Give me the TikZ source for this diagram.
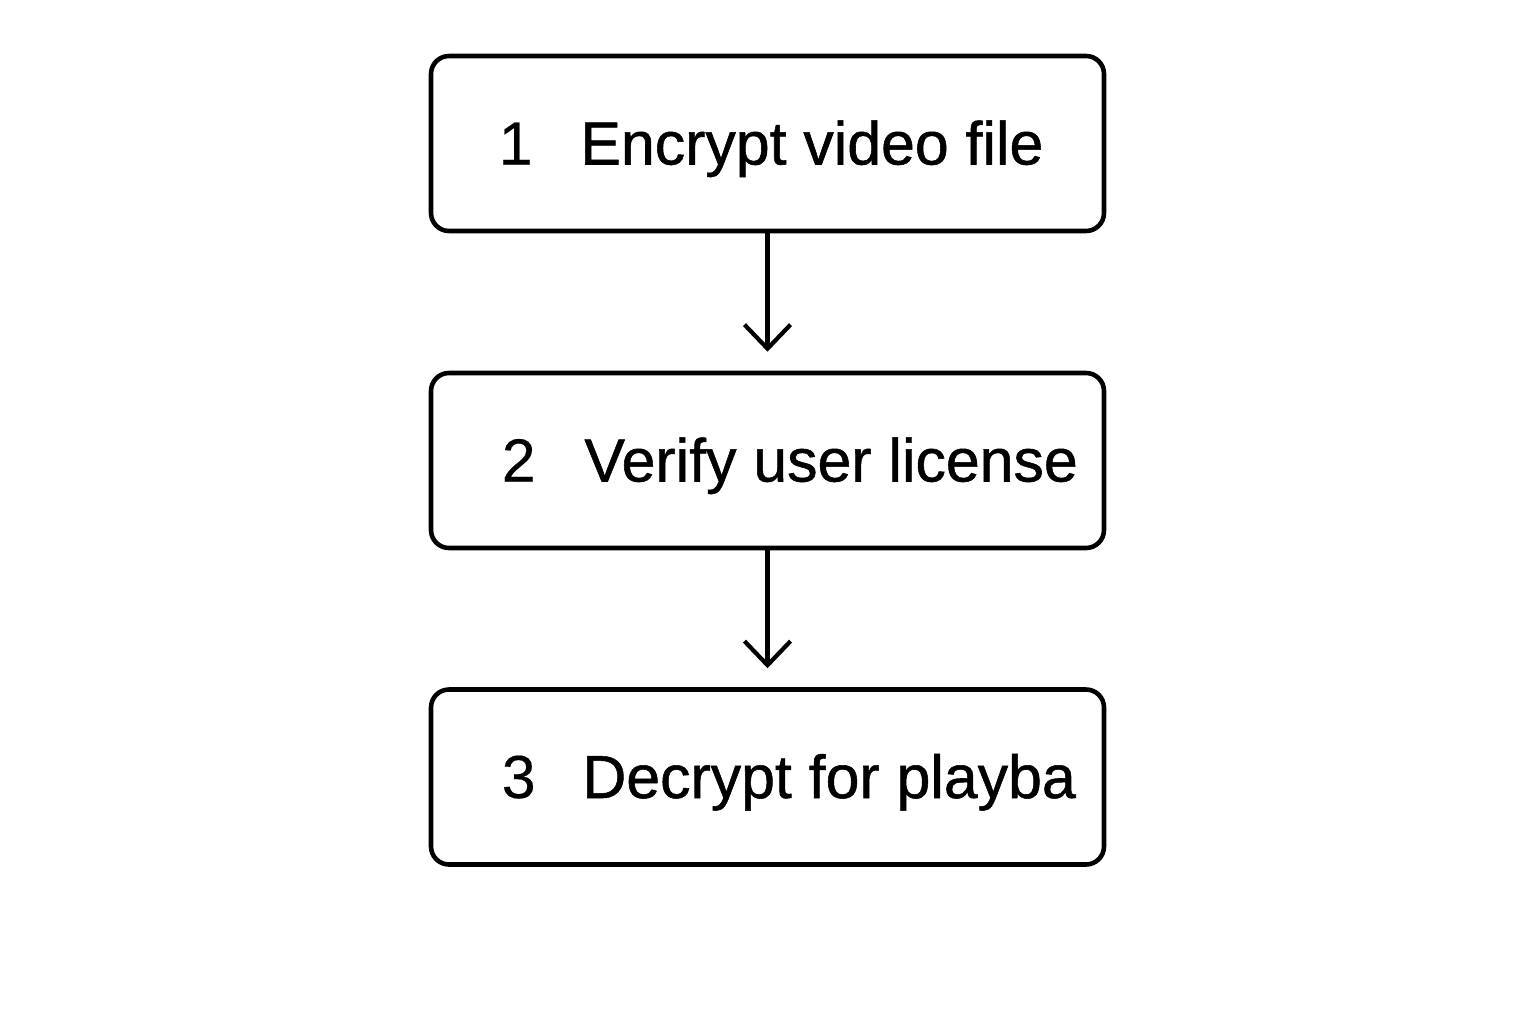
\documentclass[tikz,border=0pt]{standalone}
\usepackage{fontspec}
\setmainfont{Liberation Sans}
\newfontfamily\labelfont[FakeBold=0.9]{Liberation Sans}
\newfontfamily\numfont[FakeBold=0.3]{Liberation Sans}
\usetikzlibrary{arrows.meta}
\begin{document}
\begin{tikzpicture}[
    stepbox/.style={draw, line width=1.3pt, rounded corners=0.18cm, minimum width=6.73cm, minimum height=1.75cm, inner sep=0pt},
    steptext/.style={anchor=base west, inner sep=0pt, font=\labelfont\fontsize{17.3pt}{20pt}\selectfont},
    stepnum/.style={anchor=base, inner sep=0pt, font=\numfont\fontsize{17.3pt}{20pt}\selectfont},
    flow/.style={line width=1.2pt, -{Straight Barb[length=0.24cm, width=0.46cm, line width=1.2pt]}, shorten >=0.19cm}
  ]
  \useasboundingbox (0,0) rectangle (15.36,10.24);
  % the three boxes
  \node[stepbox] (encrypt) at (7.675,8.805) {};
  \node[stepbox] (verify) at (7.675,5.635) {};
  \node[stepbox] (decrypt) at (7.675,2.47) {};

  % numbers and labels
  \node[stepnum] (n1) at ([xshift=0.87cm,yshift=-0.21cm]encrypt.west) {1};
  \node[steptext] (t1) at ([xshift=1.51cm,yshift=-0.21cm]encrypt.west) {Encrypt video file};
  \node[stepnum] (n2) at ([xshift=0.9cm,yshift=-0.21cm]verify.west) {2};
  \node[steptext] (t2) at ([xshift=1.55cm,yshift=-0.21cm]verify.west) {Verify user license};
  \node[stepnum] (n3) at ([xshift=0.9cm,yshift=-0.21cm]decrypt.west) {3};
  \node[steptext] (t3) at ([xshift=1.53cm,yshift=-0.21cm]decrypt.west) {Decrypt for playba};

  % arrows
  \draw[flow] (encrypt.south) -- (verify.north);
  \draw[flow] (verify.south) -- (decrypt.north);
\end{tikzpicture}
\end{document}
